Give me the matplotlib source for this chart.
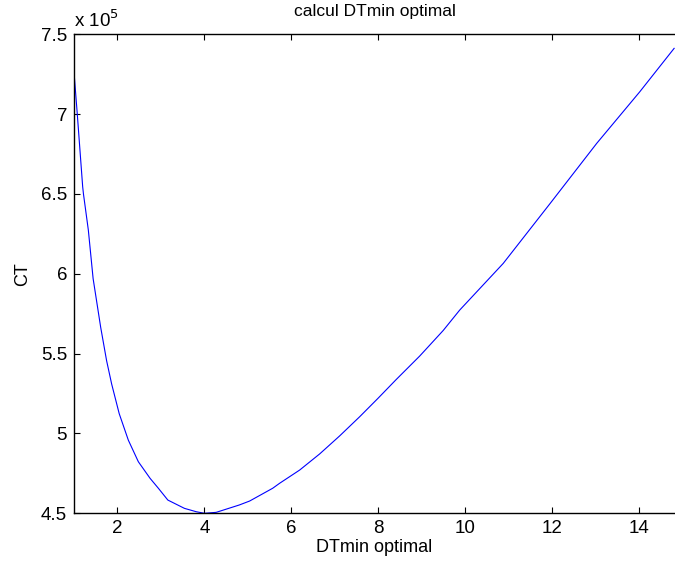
"""
calcul DTmin optimal : total cost CT versus DTmin.

Writes: out.png
"""

import matplotlib
matplotlib.use("Agg")
import matplotlib.pyplot as plt
from matplotlib.ticker import FixedLocator

plt.rcParams["font.family"] = ["Liberation Sans", "DejaVu Sans"]

# values (CT in units of 1e5)
dtmin = [1.00, 1.01, 1.076, 1.20, 1.218, 1.33, 1.44, 1.614, 1.75, 1.866,
         2.04, 2.25, 2.48, 2.75, 2.94, 3.158, 3.54, 3.81, 4.0, 4.27,
         4.80, 5.04, 5.57, 5.728, 6.19, 6.65, 7.11, 7.57, 7.99, 8.41,
         8.95, 9.49, 9.87, 10.87, 11.95, 13.02, 14.01, 14.80]
ct = [7.381, 7.23, 7.0, 6.545, 6.5, 6.274, 5.97, 5.665, 5.456, 5.31,
      5.124, 4.958, 4.823, 4.719, 4.657, 4.583, 4.531, 4.51, 4.50, 4.506,
      4.552, 4.577, 4.657, 4.688, 4.771, 4.872, 4.985, 5.105, 5.22, 5.338,
      5.485, 5.645, 5.773, 6.065, 6.441, 6.817, 7.14, 7.412]

x_ticks = [2, 4, 6, 8, 10, 12, 14]
y_ticks = [4.5, 5, 5.5, 6, 6.5, 7, 7.5]
y_tick_labels = ["4.5", "5", "5.5", "6", "6.5", "7", "7.5"]


def main():
    fig = plt.figure(figsize=(6.75, 5.66), dpi=100)
    fig.patch.set_facecolor("white")
    ax = fig.add_axes([0.1096, 0.0931, 0.8904, 0.8463])

    ax.plot(dtmin, ct, color="#0000ff", lw=0.8)

    ax.set_xlim(1, 14.82)
    ax.set_ylim(4.5, 7.5)
    ax.xaxis.set_major_locator(FixedLocator(x_ticks))
    ax.set_yticks(y_ticks)
    ax.set_yticklabels(y_tick_labels)

    ax.tick_params(direction="in", length=4, width=0.8, labelsize=13.5,
                   top=True, right=False, pad=5)
    ax.spines["right"].set_visible(False)
    for s in ("left", "bottom", "top"):
        ax.spines[s].set_linewidth(1.0)

    ax.set_title("calcul DTmin optimal", fontsize=12.5, pad=13)
    ax.set_xlabel("DTmin optimal", fontsize=13, labelpad=1)
    ax.set_ylabel("CT", fontsize=13, labelpad=7)
    ax.text(0.0, 1.006, r"x 10$^{5}$", transform=ax.transAxes,
            ha="left", va="bottom", fontsize=13.5)

    fig.savefig("out.png", dpi=100, facecolor="white")
    plt.close(fig)


if __name__ == "__main__":
    main()
